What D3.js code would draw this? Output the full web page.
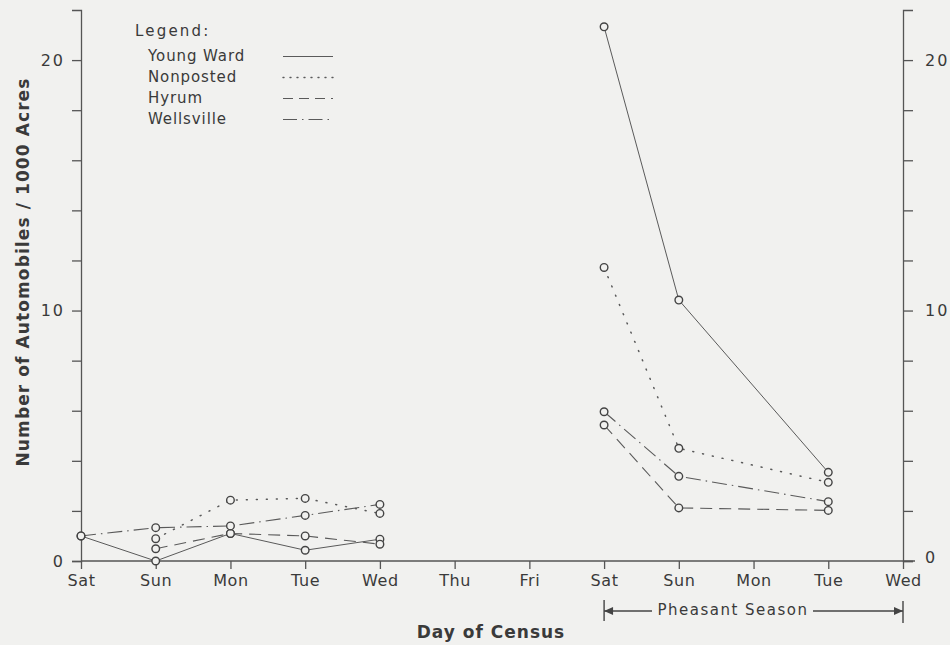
<!DOCTYPE html>
<html>
<head>
<meta charset="utf-8">
<script src="https://cdn.jsdelivr.net/npm/d3@7"></script>
<style>
  html, body { margin: 0; padding: 0; background: #f1f1ef; }
  svg { display: block; }
  text { font-family: "DejaVu Sans", sans-serif; fill: #3a3a3a; }
</style>
</head>
<body>
<svg id="chart" width="950" height="645"></svg>
<script>
// Census days: a regular week, then the opening week of pheasant season
const days = ["Sat", "Sun", "Mon", "Tue", "Wed", "Thu", "Fri", "Sat", "Sun", "Mon", "Tue", "Wed"];
// Index ranges of the two census periods (points are joined only within a period)
const periods = [[0, 4], [7, 11]];

// Automobiles per 1000 acres, one value per census day (null = no count)
const youngWard  = [1.0, 0,    1.1,  0.43, 0.87, null, null, 21.33, 10.42, null, 3.54, null];
const nonposted  = [null, 0.89, 2.43, 2.5,  1.9,  null, null, 11.72, 4.5,   null, 3.14, null];
const hyrum      = [null, 0.49, 1.1,  1.0,  0.67, null, null, 5.43,  2.12,  null, 2.02, null];
const wellsville = [1.0, 1.33, 1.4,  1.82, 2.26, null, null, 5.96,  3.38,  null, 2.37, null];

const seriesNames = ["Young Ward", "Nonposted", "Hyrum", "Wellsville"];
const seriesValues = [youngWard, nonposted, hyrum, wellsville];

// Axis ticks
const yTicks = [0, 2, 4, 6, 8, 10, 12, 14, 16, 18, 20];
const yLabelTicks = [0, 10, 20];
const yTop = 22;

const lineStyles = [
  { dash: null,              width: 1.0 },
  { dash: "1 9",             width: 1.5 },
  { dash: "12 7",            width: 1.1 },
  { dash: "15 5 1.5 5",      width: 1.1 }
];
const legendDash = [null, "1 6", "10 6", "14 5 1.5 5"];

const ink = "#555";
const bg = "#f1f1ef";

const svg = d3.select("#chart");

const x = d3.scalePoint().domain(d3.range(days.length)).range([81, 903]);
const y = d3.scaleLinear().domain([0, yTop]).range([561, 10]);

// Left axis
const leftAxis = d3.axisLeft(y)
  .tickValues(yTicks)
  .tickSize(9)
  .tickSizeOuter(9)
  .tickPadding(7)
  .tickFormat(d => yLabelTicks.includes(d) ? d : "");
const gl = svg.append("g").attr("transform", `translate(${x(0)},0)`).call(leftAxis);

// Right axis
const rightAxis = d3.axisRight(y)
  .tickValues(yTicks)
  .tickSize(10)
  .tickSizeOuter(10)
  .tickPadding(12)
  .tickFormat(d => yLabelTicks.includes(d) ? d : "");
const gr = svg.append("g").attr("transform", `translate(${x(11)},0)`).call(rightAxis);

[gl, gr].forEach(g => {
  g.select(".domain").attr("stroke", ink).attr("stroke-width", 1.3);
  g.selectAll(".tick line").attr("stroke", ink).attr("stroke-width", 1.3);
  g.selectAll(".tick text")
    .attr("font-size", 16)
    .attr("letter-spacing", 2)
    .attr("fill", "#3a3a3a")
    .style("font-family", "DejaVu Sans, sans-serif");
});
// the right-hand zero sits a little above its tick
gr.selectAll(".tick").filter(d => d === 0).select("text").attr("dy", "0.1em");

// Bottom axis
const bottomAxis = d3.axisBottom(x)
  .tickSize(8)
  .tickPadding(6)
  .tickFormat(i => days[i]);
const gb = svg.append("g").attr("transform", `translate(0,${y(0)})`).call(bottomAxis);
gb.select(".domain").remove();
gb.selectAll(".tick line").attr("stroke", ink).attr("stroke-width", 1.3);
gb.selectAll(".tick text")
  .attr("font-size", 16)
  .attr("letter-spacing", 0.6)
  .attr("fill", "#3a3a3a")
  .style("font-family", "DejaVu Sans, sans-serif");
svg.append("line")
  .attr("x1", x(0)).attr("x2", x(11) + 12)
  .attr("y1", y(0)).attr("y2", y(0))
  .attr("stroke", ink).attr("stroke-width", 1.3);

// Series lines, joined within each census period
const line = d3.line().x(d => x(d.i)).y(d => y(d.v));
seriesValues.forEach((vals, s) => {
  periods.forEach(([a, b]) => {
    const pts = [];
    for (let i = a; i <= b; i++) if (vals[i] != null) pts.push({ i, v: vals[i] });
    svg.append("path")
      .attr("d", line(pts))
      .attr("fill", "none")
      .attr("stroke", "#5a5a5a")
      .attr("stroke-width", lineStyles[s].width)
      .attr("stroke-linecap", lineStyles[s].dash && lineStyles[s].dash.startsWith("1 ") ? "round" : "butt")
      .attr("stroke-dasharray", lineStyles[s].dash);
  });
});

// Open circle markers
seriesValues.forEach(vals => {
  const pts = vals.map((v, i) => ({ i, v })).filter(d => d.v != null);
  svg.append("g").selectAll("circle").data(pts).join("circle")
    .attr("cx", d => x(d.i))
    .attr("cy", d => y(d.v))
    .attr("r", 3.8)
    .attr("fill", bg)
    .attr("stroke", "#444")
    .attr("stroke-width", 1.4);
});

// Legend
const legend = svg.append("g");
legend.append("text")
  .attr("x", 135).attr("y", 36)
  .attr("font-size", 15).attr("letter-spacing", 2.2)
  .attr("fill", "#444")
  .text("Legend:");
const rowY = [61, 82, 103, 124];
seriesNames.forEach((name, s) => {
  legend.append("text")
    .attr("x", 148).attr("y", rowY[s])
    .attr("font-size", 15).attr("letter-spacing", 0.9)
    .attr("fill", s === 2 ? "#666" : "#444")
    .text(name);
  legend.append("line")
    .attr("x1", 283).attr("x2", 333)
    .attr("y1", rowY[s] - 4.5).attr("y2", rowY[s] - 4.5)
    .attr("stroke", "#5a5a5a")
    .attr("stroke-width", s === 1 ? 1.4 : 1.1)
    .attr("stroke-linecap", s === 1 ? "round" : "butt")
    .attr("stroke-dasharray", legendDash[s]);
});

// Axis titles
svg.append("text")
  .attr("x", (x(0) + x(11)) / 2 - 1).attr("y", 638)
  .attr("text-anchor", "middle")
  .attr("font-size", 17).attr("font-weight", "bold")
  .attr("letter-spacing", 1)
  .attr("fill", "#3a3a3a")
  .text("Day of Census");
svg.append("text")
  .attr("transform", "translate(29,272) rotate(-90)")
  .attr("text-anchor", "middle")
  .attr("font-size", 17).attr("font-weight", "bold")
  .attr("letter-spacing", 1.1)
  .attr("fill", "#3a3a3a")
  .text("Number of Automobiles / 1000 Acres");

// Pheasant season bracket under the second period
const bx0 = x(7), bx1 = x(11), by = 611;
const br = svg.append("g").attr("stroke", "#444").attr("stroke-width", 1.4);
br.append("line").attr("x1", bx0).attr("x2", bx0).attr("y1", 600).attr("y2", 621);
br.append("line").attr("x1", bx1).attr("x2", bx1).attr("y1", 601).attr("y2", 623);
br.append("line").attr("x1", bx0).attr("x2", 652).attr("y1", by).attr("y2", by);
br.append("line").attr("x1", 813).attr("x2", bx1).attr("y1", by).attr("y2", by);
svg.append("path")
  .attr("d", `M${bx0},${by} l9,-4 l0,8 Z`)
  .attr("fill", "#444");
svg.append("path")
  .attr("d", `M${bx1},${by} l-9,-4 l0,8 Z`)
  .attr("fill", "#444");
svg.append("text")
  .attr("x", 733).attr("y", 615)
  .attr("text-anchor", "middle")
  .attr("font-size", 15).attr("letter-spacing", 1.5)
  .attr("fill", "#3a3a3a")
  .text("Pheasant Season");
</script>
</body>
</html>
